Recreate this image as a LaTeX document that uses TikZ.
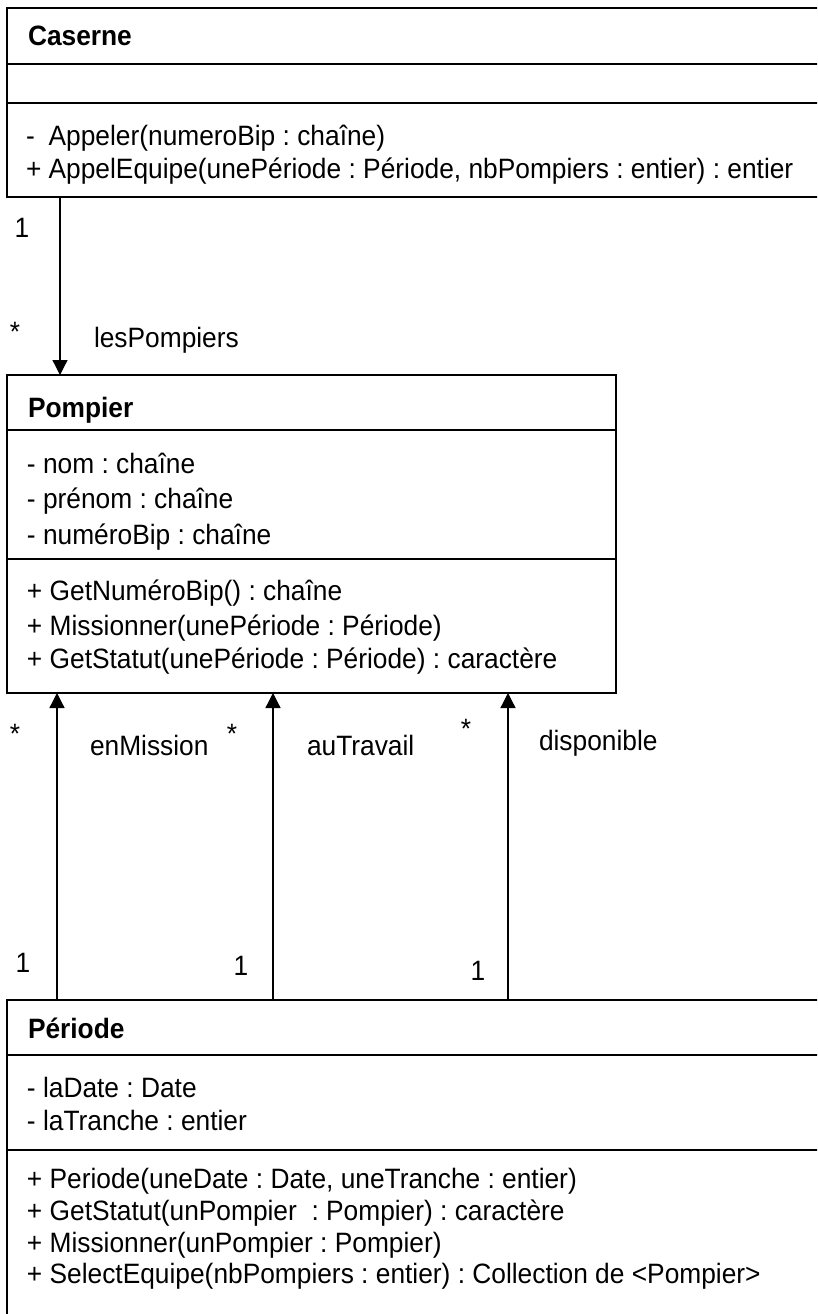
\documentclass[tikz,border=0pt]{standalone}
\usepackage{fontspec}
\setmainfont[FakeStretch=0.94]{Liberation Sans}
\usetikzlibrary{arrows.meta}
\tikzset{
  classbox/.style={draw, line width=1.6pt, rectangle, inner sep=0pt, outer sep=0pt},
  divline/.style={line width=1.6pt},
  txt/.style={anchor=base west, inner sep=0pt, outer sep=0pt, font=\fontsize{28}{32}\selectfont},
  ttl/.style={anchor=base west, inner sep=0pt, outer sep=0pt, font=\fontsize{28}{32}\selectfont\bfseries},
  mult/.style={anchor=base, inner sep=0pt, outer sep=0pt, font=\fontsize{28}{32}\selectfont},
  assoc/.style={line width=1.3pt, -{Triangle[length=15pt,width=15pt]}},
}
\frenchspacing
\begin{document}
\begin{tikzpicture}[x=1pt,y=-1pt]
\useasboundingbox (0,0) rectangle (817,1314);
\clip (0,0) rectangle (817,1314);
\fill[white] (0,0) rectangle (817,1314);

% ---- Caserne
\node[classbox, minimum width=823pt, minimum height=189pt] (caserne) at (418.5,102.5) {};
\draw[divline] (caserne.west |- 0,64) -- (caserne.east |- 0,64);
\draw[divline] (caserne.west |- 0,103) -- (caserne.east |- 0,103);
\node[ttl] (casT) at (28,46) {Caserne};
\node[txt] (casM1) at (26,145) {\rlap{-}\phantom{+ }Appeler(numeroBip : chaîne)};
\node[txt] (casM2) at (26,178) {+ AppelEquipe(unePériode : Période, nbPompiers : entier) : entier};

% ---- Pompier
\node[classbox, minimum width=609pt, minimum height=318pt] (pompier) at (311.5,534) {};
\draw[divline] (pompier.west |- 0,430) -- (pompier.east |- 0,430);
\draw[divline] (pompier.west |- 0,559) -- (pompier.east |- 0,559);
\node[ttl] (pomT) at (28,417) {Pompier};
\node[txt] (pomA1) at (27,473) {- nom : chaîne};
\node[txt] (pomA2) at (27,508) {- prénom : chaîne};
\node[txt] (pomA3) at (27,544) {- numéroBip : chaîne};
\node[txt] (pomM1) at (27,600) {+ GetNuméroBip() : chaîne};
\node[txt] (pomM2) at (27,635) {+ Missionner(unePériode : Période)};
\node[txt] (pomM3) at (27,668) {+ GetStatut(unePériode : Période) : caractère};

% ---- Periode
\node[classbox, minimum width=823pt, minimum height=340pt] (periode) at (418.5,1170) {};
\draw[divline] (periode.west |- 0,1055) -- (periode.east |- 0,1055);
\draw[divline] (periode.west |- 0,1150) -- (periode.east |- 0,1150);
\node[ttl] (perT) at (28,1038) {Période};
\node[txt] (perA1) at (27,1097) {- laDate : Date};
\node[txt] (perA2) at (27,1130) {- laTranche : entier};
\node[txt] (perM1) at (27,1188) {+ Periode(uneDate : Date, uneTranche : entier)};
\node[txt] (perM2) at (27,1220) {+ GetStatut(unPompier\ \ : Pompier) : caractère};
\node[txt] (perM3) at (27,1252) {+ Missionner(unPompier : Pompier)};
\node[txt] (perM4) at (27,1283) {+ SelectEquipe(nbPompiers : entier) : Collection de <Pompier>};

% ---- association x positions
\coordinate (xA) at (60,0);
\coordinate (xB) at (57,0);
\coordinate (xC) at (273,0);
\coordinate (xD) at (508,0);

\draw[assoc] (caserne.south -| xA) -- (pompier.north -| xA);
\draw[assoc] (periode.north -| xB) -- (pompier.south -| xB);
\draw[assoc] (periode.north -| xC) -- (pompier.south -| xC);
\draw[assoc] (periode.north -| xD) -- (pompier.south -| xD);

% ---- labels
\node[mult] (m1) at (22,237) {1};
\node[mult] (m2) at (15,341) {*};
\node[txt] (lbl1) at (94,347) {lesPompiers};

\node[mult] (m3) at (15,743) {*};
\node[mult] (m4) at (232,743) {*};
\node[mult] (m5) at (466,738) {*};
\node[txt] (lbl2) at (90,755) {enMission};
\node[txt] (lbl3) at (307,755) {auTravail};
\node[txt] (lbl4) at (539,750) {disponible};

\node[mult] (m6) at (23,972) {1};
\node[mult] (m7) at (241,975) {1};
\node[mult] (m8) at (478,980) {1};
\end{tikzpicture}
\end{document}
